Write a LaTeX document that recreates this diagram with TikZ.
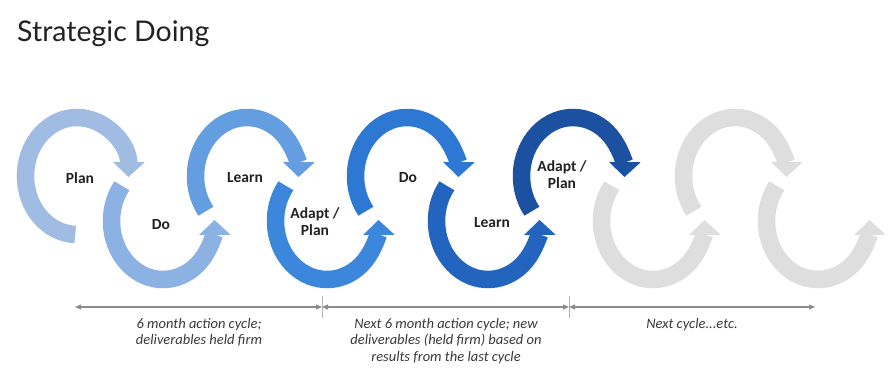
\documentclass[tikz,border=0pt]{standalone}
\usepackage{fontspec}
\setmainfont{Carlito}
\newfontfamily\titlefont{Lato}
\usetikzlibrary{arrows.meta,calc}

\definecolor{cycA}{HTML}{A0BCE2}
\definecolor{cycB}{HTML}{8CB2E4}
\definecolor{cycC}{HTML}{649DE0}
\definecolor{cycD}{HTML}{3C87DC}
\definecolor{cycE}{HTML}{2D78D2}
\definecolor{cycF}{HTML}{2364BE}
\definecolor{cycG}{HTML}{1C50A0}
\definecolor{cycGray}{HTML}{DEDEDE}
\definecolor{labeltext}{HTML}{222222}
\definecolor{notetext}{HTML}{3A3A3A}
\definecolor{axisgray}{HTML}{8C8C8C}
\definecolor{tickgray}{HTML}{B4B4B4}

% loop arrows on an ellipse around a centre coordinate
\newcommand{\upperloop}[3]{%
  \draw[band,#2] ($(#1)+(#3:51.5pt and 58.5pt)$)
    arc[start angle=#3,end angle=-1,x radius=51.5pt,y radius=58.5pt];}
\newcommand{\lowerloop}[2]{%
  \draw[band,#2] ($(#1)+(143:51.5pt and 58.5pt)$)
    arc[start angle=143,end angle=361,x radius=51.5pt,y radius=58.5pt];}

\begin{document}
\begin{tikzpicture}[x=1pt,y=1pt,
  band/.style={line width=17.5pt,-{Triangle[width=31pt,length=15pt]}},
  lbl/.style={font=\fontsize{15.5}{17}\selectfont\bfseries,text=labeltext,align=center,inner sep=0pt},
  note/.style={font=\fontsize{14.5}{16.5}\selectfont\itshape,text=notetext,align=center,inner sep=0pt,anchor=north},
  span/.style={draw=axisgray,line width=1.2pt,{Triangle[width=5pt,length=6pt]}-{Triangle[width=5pt,length=6pt]}},
  tickmark/.style={draw=tickgray,line width=1pt}
]
\useasboundingbox (0,0) rectangle (888,375);
\fill[white] (0,0) rectangle (888,375);

% title
\node[anchor=base west,inner sep=0pt,text=labeltext,font=\titlefont\fontsize{28.5}{32}\selectfont] (title) at (17,333) {Strategic Doing};

% centres of the loops: upper row and lower row alternate
\coordinate (c0) at (77,199);
\coordinate (c1) at (163,154);
\coordinate (c2) at (247,199);
\coordinate (c3) at (327,154);
\coordinate (c4) at (407,199);
\coordinate (c5) at (488,154);
\coordinate (c6) at (573,199);
\coordinate (c7) at (653,154);
\coordinate (c8) at (735,199);
\coordinate (c9) at (818,154);

% future cycles in grey
\lowerloop{c7}{cycGray}
\upperloop{c8}{cycGray}{217}
\lowerloop{c9}{cycGray}

% current and next cycle
\upperloop{c0}{cycA}{268}
\lowerloop{c1}{cycB}
\upperloop{c2}{cycC}{217}
\lowerloop{c3}{cycD}
\upperloop{c4}{cycE}{217}
\lowerloop{c5}{cycF}
\upperloop{c6}{cycG}{217}

% loop labels
\node[lbl] (plan1) at (80,197) {Plan};
\node[lbl] (do1) at (161,150) {Do};
\node[lbl] (learn1) at (245,197) {Learn};
\node[lbl] (adapt1) at (315,153) {Adapt /\\Plan};
\node[lbl] (do2) at (408,197) {Do};
\node[lbl] (learn2) at (492,152) {Learn};
\node[lbl] (adapt2) at (562,200) {Adapt /\\Plan};

% time line
\coordinate (t0) at (75,68);
\coordinate (t1) at (322,68);
\coordinate (t2) at (569,68);
\coordinate (t3) at (815,68);
\coordinate (k1a) at (322,79);
\coordinate (k1b) at (322,57);
\coordinate (k2a) at (569,79);
\coordinate (k2b) at (569,57);
\draw[tickmark] (k1a) -- (k1b);
\draw[tickmark] (k2a) -- (k2b);
\draw[span] (t0) -- (t1);
\draw[span] (t1) -- (t2);
\draw[span] (t2) -- (t3);

% notes under the time line
\node[note] (note1) at (199,57) {6 month action cycle;\\deliverables held firm};
\node[note] (note2) at (446,57) {Next 6 month action cycle; new\\deliverables (held firm) based on\\results from the last cycle};
\node[note] (note3) at (692,57) {Next cycle...etc.};
\end{tikzpicture}
\end{document}
